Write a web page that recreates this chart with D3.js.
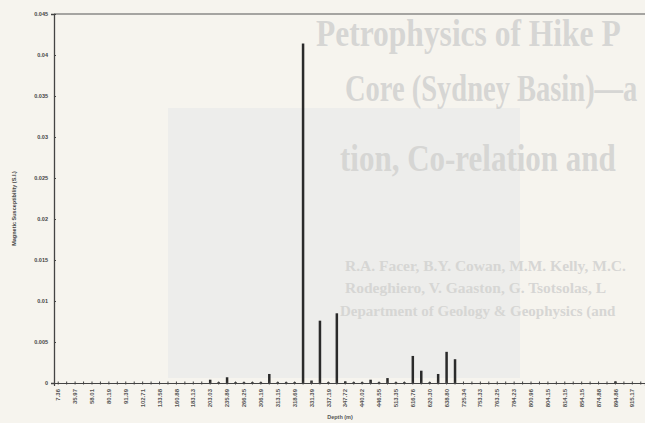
<!DOCTYPE html>
<html>
<head>
<meta charset="utf-8">
<script src="https://cdn.jsdelivr.net/npm/d3@7"></script>
<style>
  body { margin: 0; background: #f6f4ee; }
  svg { display: block; }
</style>
</head>
<body>
<svg id="chart" width="645" height="423"></svg>
<script>
// depth labels shown on every second category
const depthLabels = ["7.36", "35.97", "58.01", "80.19", "91.39", "102.71", "133.58", "160.88",
    "183.13", "203.03", "235.89", "266.25", "306.19", "313.15", "318.69", "331.39", "337.19",
    "347.72", "440.02", "446.55", "513.35", "616.76", "620.30", "638.80", "725.34", "753.33",
    "763.25", "784.23", "800.96", "804.15", "814.15", "854.15", "874.88", "894.86", "915.17"];

// magnetic susceptibility per sample (S.I.)
const susceptibility = [
    0, 0, 0, 0, 0, 0, 0, 0, 0, 0,
    0, 0, 0, 0, 0, 0, 0, 0, 0.0004, 0.0001,
    0.0007, 0.0001, 0.0001, 0.0001, 0.0001, 0.0011, 0.0001, 0.0001, 0.0001, 0.0414,
    0.0003, 0.0076, 0.0001, 0.0085, 0.0002, 0.0001, 0.0001, 0.0004, 0.0001, 0.0006,
    0.0001, 0.0001, 0.0033, 0.0015, 0.0001, 0.0011, 0.0038, 0.0029, 0, 0,
    0, 0, 0, 0, 0, 0, 0, 0, 0, 0,
    0, 0, 0, 0, 0, 0, 0.0002, 0, 0, 0];

const yTicks = [0, 0.005, 0.01, 0.015, 0.02, 0.025, 0.03, 0.035, 0.04, 0.045];

// faded text bleeding through from the scanned page
const pageLines = [
    { text: "Petrophysics of Hike P", x: 316, y: 46, size: 31.5, stretch: 1.2 },
    { text: "Core (Sydney Basin)—a", x: 345, y: 101, size: 28.5, stretch: 1.3 },
    { text: "tion, Co-relation and", x: 340, y: 171, size: 31, stretch: 1.25 },
    { text: "R.A. Facer, B.Y. Cowan, M.M. Kelly, M.C.", x: 345, y: 271, size: 15.5, stretch: 1 },
    { text: "Rodeghiero, V. Gaaston, G. Tsotsolas, L", x: 345, y: 293, size: 15.5, stretch: 1 },
    { text: "Department of Geology & Geophysics (and", x: 340, y: 316, size: 15, stretch: 1 }
];

const width = 645, height = 423;
const margin = { left: 54, right: 0, top: 14, bottom: 42 };

const svg = d3.select("#chart");

// scanned page background
svg.append("rect").attr("width", width).attr("height", height).attr("fill", "#f6f4ee");
svg.append("rect").attr("x", 168).attr("y", 108).attr("width", 352).attr("height", 270)
    .attr("fill", "#ededeb");

svg.append("g")
    .selectAll("text")
    .data(pageLines)
    .enter()
    .append("text")
    .attr("transform", (d) => `translate(${d.x},${d.y}) scale(1,${d.stretch})`)
    .style("font-family", "'Liberation Serif', serif")
    .style("font-weight", "bold")
    .style("font-size", (d) => d.size + "px")
    .style("fill", "#d6d6d4")
    .text((d) => d.text);

const categories = d3.range(susceptibility.length);

const x = d3
    .scaleBand()
    .domain(categories)
    .range([margin.left, width - margin.right]);

const y = d3
    .scaleLinear()
    .domain([0, 0.045])
    .range([height - margin.bottom + 2, margin.top]);

// top frame line
svg.append("line")
    .attr("x1", margin.left).attr("x2", width)
    .attr("y1", y(0.045)).attr("y2", y(0.045))
    .style("stroke", "#555").style("stroke-width", 1.2);

// bars
svg.append("g")
    .selectAll("rect")
    .data(susceptibility)
    .enter()
    .append("rect")
    .attr("x", (d, i) => x(i) + x.bandwidth() / 2 - 1.25)
    .attr("width", 2.5)
    .attr("y", (d) => y(d))
    .attr("height", (d) => y(0) - y(d))
    .style("fill", "#2a2a2a");

// y axis
const yAxis = svg.append("g")
    .attr("transform", `translate(${margin.left},0)`)
    .call(d3.axisLeft(y).tickValues(yTicks).tickSize(3).tickFormat((d) => d3.format("~g")(d)));
yAxis.select(".domain").style("stroke", "#444").style("stroke-width", 1.3);
yAxis.selectAll(".tick line").style("stroke", "#444").attr("x2", 2);
yAxis.selectAll("text")
    .style("font-family", "'Liberation Sans', Arial, sans-serif")
    .style("font-size", "5.5px")
    .style("font-weight", "bold")
    .style("fill", "#444")
    .attr("x", -6);

// x axis
const xAxis = svg.append("g")
    .attr("transform", `translate(0,${y(0)})`)
    .call(d3.axisBottom(x)
        .tickSize(3)
        .tickFormat((d) => (d % 2 === 0 ? depthLabels[d / 2] : "")));
xAxis.select(".domain").style("stroke", "#444").style("stroke-width", 1.2);
xAxis.selectAll(".tick line").style("stroke", "#444").attr("y1", -1.5).attr("y2", 1.5);
xAxis.selectAll("text")
    .style("font-family", "'Liberation Sans', Arial, sans-serif")
    .style("font-size", "6px")
    .style("font-weight", "bold")
    .style("fill", "#555")
    .attr("text-anchor", "end")
    .attr("transform", "rotate(-90)")
    .attr("x", -6)
    .attr("y", 0)
    .attr("dy", "0.35em");

// axis titles
svg.append("text")
    .attr("transform", `translate(16,${(y(0) + y(0.045)) / 2 + 10}) rotate(-90)`)
    .attr("text-anchor", "middle")
    .style("font-family", "'Liberation Sans', Arial, sans-serif")
    .style("font-size", "5.5px")
    .style("font-weight", "bold")
    .style("fill", "#444")
    .text("Magnetic Susceptibility (S.I.)");

svg.append("text")
    .attr("x", 340)
    .attr("y", 419)
    .attr("text-anchor", "middle")
    .style("font-family", "'Liberation Sans', Arial, sans-serif")
    .style("font-size", "5.5px")
    .style("font-weight", "bold")
    .style("fill", "#555")
    .text("Depth (m)");
</script>
</body>
</html>
